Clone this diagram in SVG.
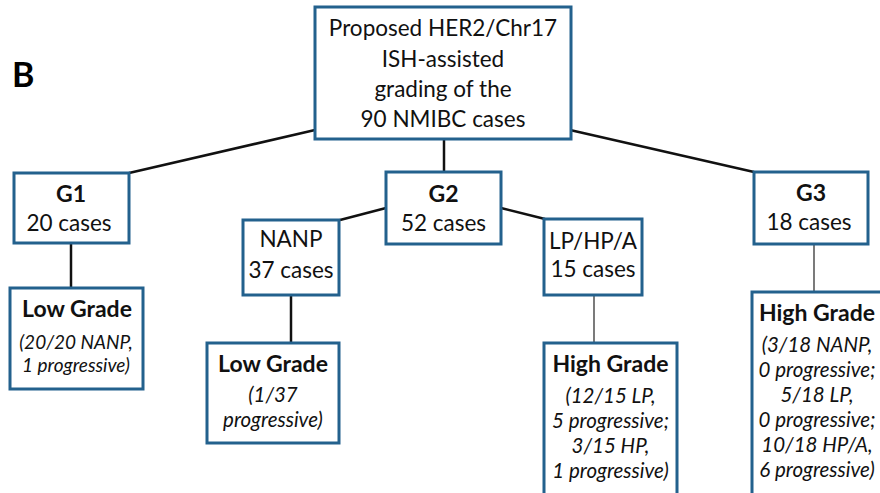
<svg xmlns="http://www.w3.org/2000/svg" width="880" height="493" viewBox="0 0 880 493">
<defs>
<style>
.box{fill:#ffffff;stroke:#23618d;stroke-width:3}
.t{font-family:Lato,"Liberation Sans",sans-serif;font-size:22.5px;fill:#111;text-anchor:middle}
.b{font-weight:bold;font-size:23px}
.i{font-style:italic;font-size:20.5px}
.s{font-size:19px}
.c{stroke:#111;stroke-width:2.5;fill:none}
.ct{stroke:#333;stroke-width:1.3;fill:none}
</style>
</defs>
<rect width="880" height="493" fill="#ffffff"/>
<text x="12" y="87" font-family="Lato,'Liberation Sans',sans-serif" font-weight="bold" font-size="34" fill="#000">B</text>
<g id="connectors">
<line class="c" x1="315" y1="130" x2="129" y2="173"/>
<line class="c" x1="444" y1="139" x2="444" y2="172"/>
<line class="c" x1="570" y1="130" x2="754" y2="172"/>
<line class="c" x1="71" y1="243" x2="71" y2="288"/>
<line class="c" x1="386" y1="208" x2="340" y2="220"/>
<line class="c" x1="501" y1="208" x2="545" y2="219"/>
<line class="c" x1="291" y1="295" x2="291" y2="343"/>
<line class="ct" x1="594" y1="295" x2="594" y2="343"/>
<line class="ct" x1="814" y1="244" x2="814" y2="292"/>
</g>
<g id="root">
<rect class="box" x="315" y="7" width="256" height="132"/>
<text class="t" x="443" y="36">Proposed HER2/Chr17</text>
<text class="t" x="443" y="67">ISH-assisted</text>
<text class="t" x="443" y="97">grading of the</text>
<text class="t" x="443" y="127">90 NMIBC cases</text>
</g>
<g id="g1">
<rect class="box" x="14" y="173" width="115" height="70"/>
<text class="t b" x="71" y="202">G1</text>
<text class="t" x="69" y="231">20 cases</text>
</g>
<g id="g1-low">
<rect class="box" x="10" y="288" width="133" height="101"/>
<text class="t b" x="77" y="317">Low Grade</text>
<text class="t i s" x="76" y="349">(20/20 NANP,</text>
<text class="t i s" x="76" y="372">1 progressive)</text>
</g>
<g id="g2">
<rect class="box" x="386" y="172" width="115" height="72"/>
<text class="t b" x="443.5" y="202">G2</text>
<text class="t" x="443.5" y="231">52 cases</text>
</g>
<g id="nanp">
<rect class="box" x="243" y="220" width="96" height="75"/>
<text class="t" x="291" y="247">NANP</text>
<text class="t" x="291" y="278">37 cases</text>
</g>
<g id="nanp-low">
<rect class="box" x="207" y="343" width="132" height="100"/>
<text class="t b" x="273" y="372">Low Grade</text>
<text class="t i" x="273" y="402">(1/37</text>
<text class="t i" x="273" y="427">progressive)</text>
</g>
<g id="lphpa">
<rect class="box" x="544" y="219" width="98" height="76"/>
<text class="t" x="593" y="249">LP/HP/A</text>
<text class="t" x="593" y="277">15 cases</text>
</g>
<g id="lphpa-high">
<rect class="box" x="544" y="343" width="133" height="154"/>
<text class="t b" x="610.5" y="372">High Grade</text>
<text class="t i" x="610.5" y="403">(12/15 LP,</text>
<text class="t i" x="610.5" y="428">5 progressive;</text>
<text class="t i" x="610.5" y="453">3/15 HP,</text>
<text class="t i" x="610.5" y="478">1 progressive)</text>
</g>
<g id="g3">
<rect class="box" x="754" y="172" width="114" height="72"/>
<text class="t b" x="811" y="201">G3</text>
<text class="t" x="809" y="230">18 cases</text>
</g>
<g id="g3-high">
<rect class="box" x="752" y="292" width="132" height="205"/>
<text class="t b" x="817" y="321">High Grade</text>
<text class="t i" x="817" y="352">(3/18 NANP,</text>
<text class="t i" x="817" y="377">0 progressive;</text>
<text class="t i" x="817" y="402">5/18 LP,</text>
<text class="t i" x="817" y="427">0 progressive;</text>
<text class="t i" x="817" y="452">10/18 HP/A,</text>
<text class="t i" x="817" y="477">6 progressive)</text>
</g>
</svg>
